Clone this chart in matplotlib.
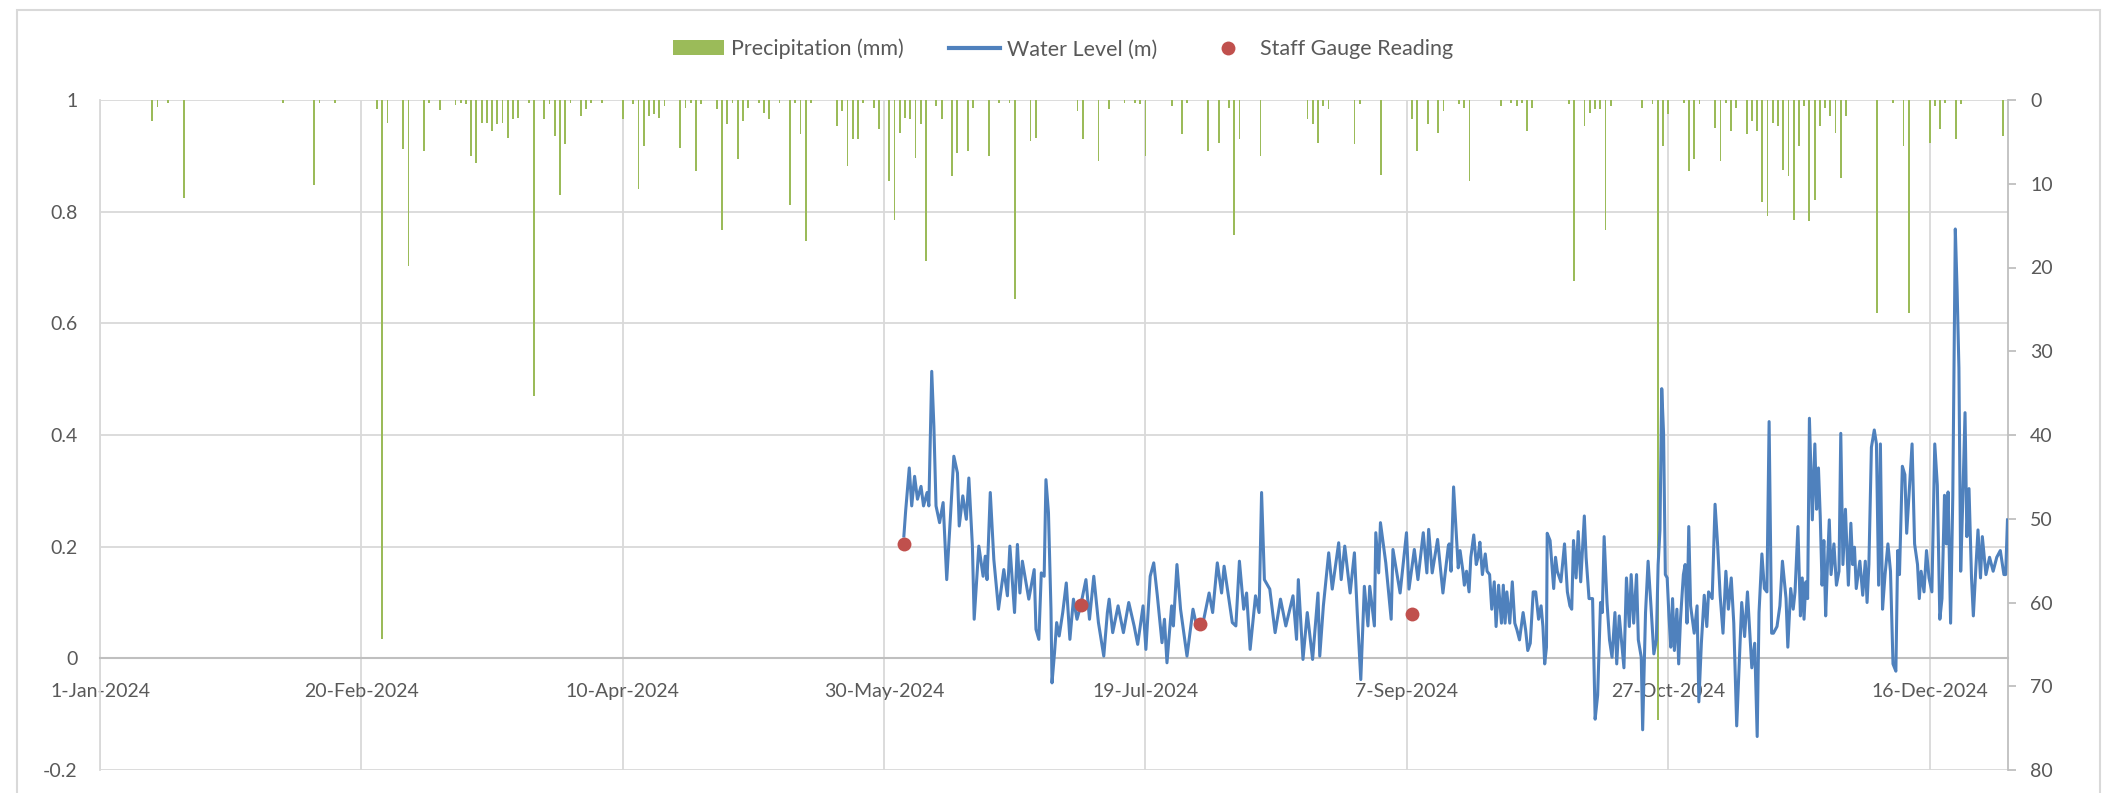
import numpy as np
import matplotlib
matplotlib.use('Agg')
import matplotlib.pyplot as plt
import matplotlib.dates as mdates
from matplotlib.patches import Rectangle, Patch
from matplotlib.lines import Line2D
from matplotlib.ticker import FuncFormatter
from datetime import datetime

plt.rcParams['font.family'] = ['Lato', 'DejaVu Sans']

# day numbers are counted from 1-Jan-2024
start = mdates.date2num(datetime(2024, 1, 1))

precip_day = [10, 11, 13, 16, 35, 41, 42, 45, 53, 54, 55, 58, 59,
              62, 63, 65, 68, 69, 70, 71, 72, 73, 74, 75, 76, 77, 78, 79, 80, 82, 83, 85, 86, 87, 88,
              89, 90, 92, 93, 94, 96, 100, 102, 103, 104, 105, 106, 107, 108, 111, 112, 113, 114, 115,
              118, 119, 120, 121,
              122, 123, 124, 126, 127, 128, 130, 132, 133, 134, 135, 136, 141, 142, 143, 144, 145, 146,
              148, 149, 151, 152, 153, 154, 155, 156, 157, 158, 160, 161, 163, 164, 166, 167, 170, 172,
              174, 175, 178, 179,
              187, 188, 191, 193, 196, 198, 199, 200, 205, 207, 208, 212, 214, 216, 217, 218, 222, 231,
              232, 233, 234, 235, 240, 241,
              245, 251, 252, 254, 256, 257, 260, 261, 262, 268, 270, 271, 272, 273, 274, 281, 282, 284,
              285, 286, 287, 288, 289, 295, 297, 298, 299, 300, 303, 304, 305,
              306, 309, 310, 311, 312, 313, 315, 316, 317, 318, 319, 320, 321, 322, 323, 324, 325, 326,
              327, 328, 329, 330, 331, 332, 333, 334, 340, 343, 345, 346, 350, 351, 352, 353, 355, 356, 364]
precip_mm = [2.5, 0.8, 0.3, 11.7, 0.3, 10.1, 0.3, 0.3, 1.1, 64.4, 2.7, 5.9, 19.8,
             6.1, 0.3, 1.2, 0.6, 0.3, 0.5, 6.7, 7.5, 2.7, 2.7, 3.7, 2.9, 2.7, 4.5, 2.3, 2.1, 0.3, 35.4, 2.3, 0.5, 4.3, 11.3,
             5.3, 0.3, 1.9, 1.1, 0.3, 0.3, 2.3, 0.5, 10.6, 5.5, 1.9, 1.7, 2.1, 0.7, 5.7, 0.9, 0.3, 8.5, 0.5,
             1.1, 15.5, 2.9, 0.3,
             7.1, 2.5, 0.9, 0.3, 1.5, 2.3, 0.3, 12.5, 0.3, 4.1, 16.8, 0.3, 3.1, 1.3, 7.9, 4.7, 4.7, 0.3,
             0.9, 3.5, 9.7, 14.3, 3.9, 2.1, 2.3, 6.9, 2.9, 19.2, 0.7, 2.3, 9.1, 6.3, 6.1, 0.9, 6.7, 0.3,
             0.3, 23.8, 4.9, 4.5,
             1.3, 4.7, 7.3, 1.1, 0.3, 0.3, 0.5, 6.7, 0.7, 4.1, 0.3, 6.1, 5.1, 0.9, 16.1, 4.7, 6.7, 2.3,
             2.9, 5.1, 0.7, 1.1, 5.3, 0.5,
             8.9, 2.3, 6.1, 2.9, 3.9, 1.3, 0.5, 0.9, 9.7, 0.7, 0.3, 0.7, 0.3, 3.7, 0.9, 0.5, 21.6, 3.1,
             1.5, 1.1, 1.1, 15.5, 0.7, 0.9, 0.5, 74.0, 5.5, 1.7, 0.3, 8.5, 7.1,
             0.5, 3.3, 7.3, 0.3, 3.7, 0.9, 4.1, 2.5, 3.7, 12.2, 13.9, 2.7, 3.1, 8.3, 9.1, 14.3, 5.5, 0.7,
             14.5, 11.9, 3.1, 0.9, 1.9, 3.9, 9.3, 1.9, 25.4, 0.3, 5.5, 25.4, 5.1, 0.7, 3.5, 0.3, 4.7, 0.5, 4.3]

wl_day = [153.78, 154.12, 154.81, 155.28, 155.83, 156.38, 157.06, 157.54, 158.22, 158.56,
          159.11, 159.52, 159.93, 160.61, 161.29, 161.98, 162.66, 163.34, 164.03, 164.37,
          165.05, 165.73, 166.21, 166.89, 167.23, 168.12, 168.94, 169.35, 169.69, 170.31,
          170.99, 171.88, 172.90, 173.59, 174.06, 174.95, 175.50, 175.98, 176.45, 177.68,
          178.71, 179.05, 179.60, 180.07, 180.62, 180.96, 181.44, 181.92, 182.12, 182.60,
          183.01, 183.49, 184.17, 184.85, 185.54, 186.22, 186.90, 187.59, 188.61, 189.29,
          190.11, 191.00, 192.02, 192.71, 193.05, 193.73, 194.76, 195.78, 196.80, 197.83,
          198.51, 199.54, 200.08, 200.90, 201.58, 202.27, 203.16, 203.63, 204.11, 205.00,
          205.34, 206.02, 206.71, 207.94, 209.09, 209.78, 211.15, 212.17, 212.85, 213.74,
          214.56, 215.04, 216.61, 217.29, 217.97, 218.79, 219.34, 220.02, 221.05, 221.73,
          222.21, 222.75, 223.78, 224.80, 225.83, 226.85, 228.22, 228.90, 229.24, 230.13,
          230.95, 231.97, 233.00, 233.34, 234.03, 235.05, 235.73, 236.96, 237.44, 238.12,
          239.15, 239.97, 240.51, 241.19, 241.87, 242.56, 242.90, 243.79, 244.06, 244.61,
          244.95, 245.97, 247.00, 247.34, 248.71, 249.93, 250.41, 251.43, 252.12, 253.14,
          253.83, 254.17, 254.85, 255.88, 256.90, 257.93,
          258.11, 258.45, 258.94, 259.49, 259.83, 260.18, 260.73, 261.00, 261.42, 261.90,
          262.24, 262.80, 263.28, 263.62, 263.97, 264.45, 265.00, 265.35, 265.83, 266.24,
          266.72, 267.07, 267.55, 268.10, 268.45, 268.79, 269.13, 269.69, 270.17, 270.65,
          271.06, 271.55, 272.24, 272.72, 273.13, 273.61, 274.17, 274.65, 275.20, 275.68,
          276.03, 276.37, 276.71, 276.85, 277.40, 278.09, 278.44, 278.78, 279.47, 280.16,
          280.71, 281.19, 281.54, 281.88, 282.37, 282.78, 283.26, 283.95, 284.29, 284.85,
          285.53, 286.02, 286.50, 287.05, 287.39, 287.74, 288.29, 288.77, 289.25, 289.81,
          290.15, 290.63, 291.18, 291.53, 292.01, 292.56, 292.91, 293.39, 293.94, 294.28,
          294.84, 295.11, 295.66, 296.15, 296.70, 297.25, 297.73, 298.07, 298.42, 298.76,
          299.11, 299.45, 299.80, 300.14, 300.49, 300.83, 301.18, 301.66, 302.00, 302.35,
          302.90, 303.24, 303.59, 303.93, 304.28, 304.97, 305.52, 305.86, 306.34, 306.89,
          307.38, 307.72, 308.41, 308.96, 309.44, 309.93, 310.48, 311.03, 311.51, 312.06,
          312.54, 313.10, 313.58, 314.06, 314.61, 315.16, 315.65, 315.99, 316.54, 317.02,
          317.37, 317.92, 318.40, 318.88, 319.30, 319.78, 320.12, 320.81, 321.36, 321.85,
          322.54, 322.88, 323.43, 323.91, 324.26, 324.81, 325.29, 325.64, 325.98, 326.33,
          326.67, 327.01, 327.57, 328.05, 328.39, 328.74, 329.08, 329.43, 329.77, 330.12,
          330.46, 330.81, 331.15, 331.70, 332.18, 332.67, 333.01, 333.42, 333.90, 334.46,
          334.94, 335.28, 335.63, 335.97, 336.66, 337.21, 337.70, 338.04, 338.39, 338.87,
          339.42, 339.83, 340.25, 340.59, 341.00, 341.48, 342.03, 342.52, 343.00, 343.55,
          343.90, 344.24, 344.79, 345.27, 345.62, 346.17, 346.65, 347.13, 347.69, 348.03,
          348.38, 348.93, 349.41, 349.89, 350.44, 350.99, 351.48, 351.96, 352.37, 352.85,
          353.20, 353.54, 354.02, 354.44, 354.92, 355.26, 355.61, 355.95, 356.30, 356.78,
          357.13, 357.54, 358.02, 358.37, 358.85, 359.26, 359.74, 360.09, 360.78, 361.47,
          362.16, 362.85, 363.53, 364.22, 364.55, 364.90]
wl_level = [0.219, 0.264, 0.341, 0.273, 0.326, 0.285, 0.308, 0.273, 0.297, 0.273,
            0.514, 0.416, 0.273, 0.243, 0.279, 0.141, 0.249, 0.362, 0.332, 0.237,
            0.291, 0.249, 0.323, 0.201, 0.070, 0.201, 0.147, 0.183, 0.141, 0.297,
            0.177, 0.088, 0.159, 0.112, 0.201, 0.082, 0.204, 0.117, 0.174, 0.106,
            0.159, 0.052, 0.034, 0.153, 0.147, 0.320, 0.261, 0.088, -0.044, 0.010,
            0.064, 0.040, 0.082, 0.135, 0.034, 0.106, 0.070, 0.094, 0.141, 0.070,
            0.147, 0.064, 0.004, 0.082, 0.106, 0.046, 0.094, 0.046, 0.100, 0.058,
            0.025, 0.094, 0.016, 0.147, 0.171, 0.112, 0.028, 0.070, -0.008, 0.094,
            0.058, 0.168, 0.088, 0.004, 0.088, 0.058, 0.070, 0.117, 0.082, 0.171,
            0.117, 0.165, 0.064, 0.058, 0.174, 0.088, 0.117, 0.016, 0.112, 0.082,
            0.297, 0.141, 0.124, 0.046, 0.106, 0.058, 0.112, 0.034, 0.141, -0.002,
            0.082, -0.002, 0.117, 0.004, 0.094, 0.189, 0.124, 0.207, 0.141, 0.201,
            0.117, 0.189, 0.082, -0.038, 0.129, 0.058, 0.129, 0.058, 0.225, 0.153,
            0.243, 0.171, 0.070, 0.195, 0.117, 0.225, 0.124, 0.195, 0.141, 0.225,
            0.153, 0.231, 0.153, 0.213, 0.117, 0.201,
            0.205, 0.156, 0.307, 0.218, 0.162, 0.193, 0.156, 0.131, 0.156, 0.119,
            0.181, 0.221, 0.168, 0.181, 0.208, 0.150, 0.187, 0.156, 0.150, 0.088,
            0.137, 0.057, 0.131, 0.063, 0.131, 0.063, 0.119, 0.063, 0.137, 0.063,
            0.051, 0.033, 0.082, 0.051, 0.014, 0.027, 0.119, 0.119, 0.070, 0.094,
            0.057, -0.010, 0.020, 0.224, 0.211, 0.125, 0.181, 0.156, 0.137, 0.205,
            0.119, 0.094, 0.088, 0.211, 0.144, 0.227, 0.137, 0.255, 0.181, 0.107,
            0.107, -0.109, -0.066, 0.100, 0.082, 0.218, 0.100, 0.033, 0.002, 0.082,
            -0.010, 0.076, 0.020, -0.017, 0.144, 0.057, 0.150, 0.063, 0.150, 0.033,
            0.002, -0.128, 0.082, 0.174, 0.094, 0.008, 0.033, 0.168, 0.230, 0.483,
            0.403, 0.150, 0.144, 0.076, 0.020, 0.107, 0.014, 0.088, -0.010, 0.070,
            0.150, 0.168, 0.063, 0.236, 0.094, 0.045, 0.094, -0.078, 0.027, 0.113,
            0.057, 0.119, 0.107, 0.276, 0.205, 0.113, 0.045, 0.156, 0.088, 0.144,
            0.063, -0.121, -0.010, 0.100, 0.039, 0.119, 0.039, -0.017, 0.027, -0.140,
            0.082, 0.187, 0.125, 0.119, 0.424, 0.045, 0.045, 0.057, 0.094, 0.174,
            0.107, 0.020, 0.125, 0.088, 0.119, 0.236, 0.076, 0.144, 0.070, 0.137,
            0.107, 0.430, 0.248, 0.384, 0.267, 0.341, 0.255, 0.131, 0.211, 0.076,
            0.168, 0.248, 0.150, 0.205, 0.131, 0.156, 0.403, 0.168, 0.267, 0.131,
            0.242, 0.168, 0.199, 0.125, 0.174, 0.113, 0.174, 0.100, 0.168, 0.378,
            0.409, 0.384, 0.131, 0.384, 0.088, 0.150, 0.205, 0.156, -0.010, -0.023,
            0.193, 0.150, 0.344, 0.329, 0.224, 0.310, 0.384, 0.205, 0.168, 0.107,
            0.156, 0.119, 0.193, 0.144, 0.119, 0.384, 0.310, 0.070, 0.107, 0.292,
            0.205, 0.298, 0.063, 0.292, 0.769, 0.661, 0.520, 0.156, 0.267, 0.440,
            0.218, 0.304, 0.144, 0.076, 0.162, 0.230, 0.144, 0.218, 0.150, 0.181,
            0.156, 0.181, 0.193, 0.150, 0.150, 0.248]

gauge_day = [153.8, 187.6, 210.5, 250.9]
gauge_level = [0.204, 0.095, 0.062, 0.080]

tick_dates = ['2024-01-01', '2024-02-20', '2024-04-10', '2024-05-30',
              '2024-07-19', '2024-09-07', '2024-10-27', '2024-12-16']

grid_c = '#D9D9D9'
text_c = '#595959'
W, H = 2103, 793

fig = plt.figure(figsize=(W / 100, H / 100), dpi=100)
pos = [100 / W, 1 - 770 / H, (2008 - 100) / W, (770 - 100) / H]

# left axis: gridlines and water level scale
ax = fig.add_axes(pos)
# right axis: precipitation hanging from the top
ax2 = ax.twinx()
# top layer for the water level line and gauge readings
ax3 = fig.add_axes(pos, sharex=ax, sharey=ax)
ax3.axis('off')
ax3.patch.set_visible(False)

ax2.bar(start + np.array(precip_day), precip_mm, width=0.35,
        color='#9BBB59', linewidth=0)
ax3.plot(start + np.array(wl_day), wl_level, color='#4F81BD', lw=2.2,
         solid_joinstyle='round')
ax3.plot(start + np.array(gauge_day), gauge_level, 'o', color='#C0504D',
         ms=10, mew=0)

ax.set_xlim(start, start + 365)
ax.set_ylim(-0.2, 1)
ax.set_yticks(np.arange(-0.2, 1.01, 0.2))
ax.yaxis.set_major_formatter(FuncFormatter(lambda v, p: f'{round(v, 1):g}'))
ax.set_xticks([mdates.datestr2num(d) for d in tick_dates])
ax.xaxis.set_major_formatter(mdates.DateFormatter('%-d-%b-%Y'))
ax.grid(True, color=grid_c, lw=1.3)
ax.set_axisbelow(True)

ax.spines['top'].set_visible(False)
ax.spines['right'].set_visible(False)
ax.spines['left'].set_color(grid_c)
ax.spines['left'].set_linewidth(1.3)
ax.spines['bottom'].set_position(('data', 0))
ax.spines['bottom'].set_color('#BFBFBF')
ax.spines['bottom'].set_linewidth(1.5)
ax.tick_params(axis='x', length=0, pad=18, labelsize=14, labelcolor=text_c)
ax.tick_params(axis='y', length=0, pad=16, labelsize=14, labelcolor=text_c)

ax2.set_ylim(80, 0)
ax2.set_yticks(range(0, 81, 10))
for s in ['top', 'left', 'bottom']:
    ax2.spines[s].set_visible(False)
ax2.spines['right'].set_color('#BFBFBF')
ax2.spines['right'].set_linewidth(1.3)
ax2.tick_params(axis='y', length=6, width=1.3, color='#BFBFBF', pad=10,
                labelsize=14, labelcolor=text_c)

handles = [Patch(facecolor='#9BBB59'),
           Line2D([], [], color='#4F81BD', lw=3),
           Line2D([], [], marker='o', color='#C0504D', ls='none', ms=10, mew=0)]
labels = ['Precipitation (mm)', 'Water Level (m)', 'Staff Gauge Reading']
fig.legend(handles, labels, loc='center', bbox_to_anchor=(0.5055, 0.938), ncol=3,
           frameon=False, fontsize=15.5, handlelength=2.4, handletextpad=0.3,
           columnspacing=2.1, labelcolor=text_c)

# chart frame
fig.patches.append(Rectangle((17 / W, -0.05), (2100 - 17) / W, 1.05 - 10 / H,
                             transform=fig.transFigure, fill=False,
                             edgecolor=grid_c, lw=1.5))

fig.savefig('out.png', dpi=100)
